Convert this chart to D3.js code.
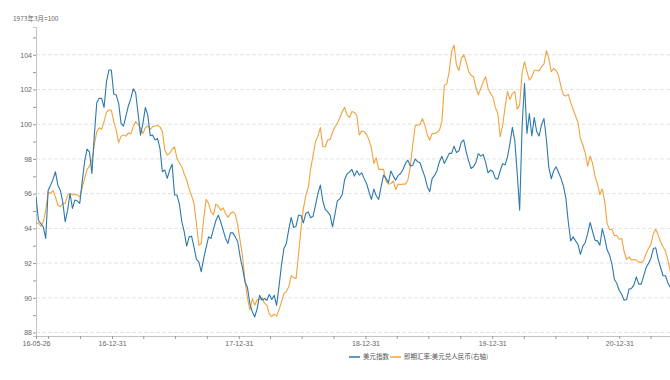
<!DOCTYPE html>
<html>
<head>
<meta charset="utf-8">
<script src="https://cdn.jsdelivr.net/npm/d3@7"></script>
<style>
    body { margin: 0; background: #ffffff; }
    svg { display: block; font-family: "Noto Sans CJK SC", "Noto Sans", sans-serif; }
</style>
</head>
<body>
<div id="chart"></div>
<script>
// weekly closes, first one on 2016-05-26
const first_week = '2016-05-26';
const last_day = '2021-05-26';

// 美元指数 (left axis, 1973年3月=100)
const dxy_values = [
    95.82, 94.47, 94.28, 94.09, 93.42, 96.20, 96.49, 96.82, 97.26, 96.49,
    96.20, 95.53, 94.38, 95.05, 96.01, 95.15, 95.63, 95.57, 95.44, 96.68,
    97.84, 98.57, 98.41, 97.16, 99.37, 101.24, 101.49, 101.49, 100.97, 102.45,
    103.12, 103.12, 101.74, 101.68, 101.20, 100.05, 99.89, 100.47, 101.05, 101.47,
    102.04, 101.81, 100.62, 99.37, 100.05, 100.97, 100.51, 99.34, 99.37, 99.09,
    99.18, 98.61, 97.26, 97.36, 96.88, 97.36, 97.70, 95.92, 95.92, 95.40,
    94.38, 93.80, 92.98, 93.51, 93.55, 92.94, 92.21, 92.07, 91.50, 92.27,
    92.90, 93.51, 93.42, 93.94, 94.44, 94.76, 94.38, 93.90, 93.42, 93.13,
    93.74, 93.74, 93.51, 93.23, 92.36, 91.69, 90.92, 90.59, 89.67, 89.19,
    88.90, 89.38, 90.15, 89.86, 89.96, 89.86, 90.19, 89.90, 90.15, 89.56,
    90.67, 91.88, 92.84, 93.13, 93.94, 94.63, 94.05, 94.13, 94.76, 94.76,
    94.32, 94.86, 94.95, 94.61, 94.70, 95.34, 96.01, 96.49, 95.59, 95.09,
    94.95, 94.76, 94.09, 94.82, 95.59, 95.70, 95.95, 96.82, 97.13, 97.26,
    97.39, 97.01, 97.32, 97.07, 97.20, 96.88, 96.59, 96.11, 95.67, 96.26,
    95.88, 95.67, 96.40, 97.07, 96.88, 96.63, 97.30, 97.01, 96.78, 97.05,
    97.16, 97.39, 97.74, 97.93, 97.59, 97.64, 97.99, 97.84, 97.78, 97.36,
    96.97, 96.40, 96.11, 96.88, 97.05, 97.34, 97.84, 98.16, 97.74, 98.01,
    98.32, 98.32, 98.74, 98.37, 98.47, 98.97, 99.09, 98.41, 97.89, 97.45,
    97.55, 97.80, 98.30, 98.16, 98.26, 97.80, 97.20, 97.36, 97.26, 96.88,
    96.84, 97.32, 97.72, 97.66, 98.12, 98.89, 99.82, 99.05, 97.16, 95.05,
    99.85, 102.35, 99.47, 100.62, 99.32, 100.39, 99.58, 99.32, 99.97, 100.33,
    99.12, 97.51, 96.86, 97.32, 97.55, 97.22, 96.88, 96.45, 95.76, 94.38,
    93.28, 93.51, 93.28, 93.07, 92.50, 92.98, 93.19, 93.71, 94.34, 93.82,
    93.32, 93.28, 93.03, 93.98, 93.44, 92.75, 92.46, 91.92, 91.05, 90.82,
    90.42, 90.19, 89.86, 89.90, 90.50, 90.54, 90.73, 91.21, 90.79, 90.79,
    91.25, 91.73, 91.98, 92.27, 92.84, 92.88, 92.21, 91.73, 91.27, 91.27,
    90.86, 90.59
];

// 即期汇率:美元兑人民币 (right axis)
const usdcny_values = [
    6.569, 6.572, 6.560, 6.575, 6.614, 6.676, 6.671, 6.680, 6.659, 6.631,
    6.626, 6.637, 6.637, 6.665, 6.671, 6.666, 6.668, 6.665, 6.659, 6.691,
    6.721, 6.752, 6.763, 6.781, 6.834, 6.879, 6.892, 6.887, 6.913, 6.945,
    6.952, 6.952, 6.913, 6.884, 6.842, 6.864, 6.868, 6.864, 6.875, 6.871,
    6.896, 6.913, 6.904, 6.890, 6.873, 6.892, 6.898, 6.887, 6.896, 6.898,
    6.900, 6.896, 6.879, 6.817, 6.800, 6.806, 6.819, 6.828, 6.789, 6.774,
    6.761, 6.736, 6.716, 6.686, 6.664, 6.637, 6.569, 6.496, 6.502, 6.586,
    6.651, 6.637, 6.609, 6.598, 6.635, 6.628, 6.614, 6.622, 6.603, 6.590,
    6.603, 6.609, 6.600, 6.564, 6.511, 6.457, 6.376, 6.319, 6.277, 6.316,
    6.294, 6.313, 6.313, 6.320, 6.300, 6.294, 6.264, 6.255, 6.264, 6.257,
    6.279, 6.305, 6.333, 6.340, 6.356, 6.393, 6.387, 6.384, 6.463, 6.547,
    6.619, 6.663, 6.690, 6.752, 6.800, 6.845, 6.864, 6.893, 6.828, 6.828,
    6.851, 6.853, 6.877, 6.895, 6.908, 6.925, 6.946, 6.961, 6.935, 6.927,
    6.947, 6.944, 6.933, 6.868, 6.881, 6.879, 6.870, 6.852, 6.823, 6.772,
    6.790, 6.752, 6.752, 6.752, 6.713, 6.702, 6.704, 6.712, 6.684, 6.702,
    6.701, 6.702, 6.702, 6.716, 6.761, 6.834, 6.899, 6.901, 6.904, 6.923,
    6.901, 6.868, 6.851, 6.873, 6.873, 6.877, 6.884, 6.913, 7.036, 7.040,
    7.081, 7.150, 7.171, 7.104, 7.085, 7.126, 7.138, 7.115, 7.082, 7.069,
    7.064, 7.028, 7.003, 7.025, 7.048, 7.064, 7.025, 7.008, 6.996, 6.961,
    6.941, 6.862, 6.901, 6.961, 7.015, 6.987, 7.008, 7.014, 6.955, 6.969,
    7.076, 7.115, 7.081, 7.053, 7.064, 7.086, 7.086, 7.084, 7.098, 7.107,
    7.152, 7.126, 7.081, 7.092, 7.085, 7.068, 7.031, 7.003, 6.999, 7.005,
    6.977, 6.954, 6.932, 6.910, 6.856, 6.834, 6.806, 6.763, 6.797, 6.772,
    6.729, 6.703, 6.667, 6.686, 6.643, 6.569, 6.549, 6.549, 6.529, 6.529,
    6.516, 6.519, 6.474, 6.448, 6.457, 6.446, 6.448, 6.446, 6.440, 6.437,
    6.444, 6.468, 6.485, 6.499, 6.534, 6.550, 6.530, 6.508, 6.491, 6.476,
    6.446, 6.406
];

const series_names = ['美元指数', '即期汇率:美元兑人民币(右轴)'];
const unit_note = '1973年3月=100';
const y_ticks = [88, 89, 90, 91, 92, 93, 94, 95, 96, 97, 98, 99, 100, 101, 102, 103, 104, 105];
const y_labels = [88, 90, 92, 94, 96, 98, 100, 102, 104];
const x_label_dates = ['2016-05-26', '2016-12-31', '2017-12-31', '2018-12-31', '2019-12-31', '2020-12-31'];

(function() {
    const width = 670, height = 380;
    const margins = {top: 27, right: 0, bottom: 44, left: 36};
    const colors = ['#2c79ad', '#f3a23e'];
    const axis_color = '#c4c4c4', label_color = '#666666';

    const parse = d3.timeParse('%Y-%m-%d');
    const fmt = d3.timeFormat('%y-%m-%d');
    const start = parse(first_week);
    const dates = dxy_values.map((v, i) => d3.timeDay.offset(start, 7 * i));

    let svg = d3.select('#chart').append('svg')
        .attr('width', width)
        .attr('height', height);

    let x = d3.scaleTime()
        .domain([start, parse(last_day)])
        .range([margins.left, width - margins.right]);
    let y = d3.scaleLinear()
        .domain([87.8, 105.6])
        .range([height - margins.bottom, margins.top]);
    let y_right = d3.scaleLinear()
        .domain([6.19, 7.232])
        .range([height - margins.bottom, margins.top]);

    // grid
    svg.append('g')
        .selectAll('line')
        .data(y_labels)
        .enter().append('line')
        .attr('x1', margins.left)
        .attr('x2', width)
        .attr('y1', (d) => y(d))
        .attr('y2', (d) => y(d))
        .attr('stroke', '#e4e4e4')
        .attr('stroke-dasharray', '4,2')
        .attr('stroke-width', 1);

    // left axis
    let y_axis = svg.append('g')
        .attr('transform', 'translate(' + margins.left + ',0)')
        .call(d3.axisLeft(y)
            .tickValues(y_ticks)
            .tickSize(3)
            .tickFormat((d) => (y_labels.indexOf(d) >= 0 ? d : '')));
    y_axis.select('.domain').attr('stroke', axis_color);
    y_axis.selectAll('.tick line').attr('stroke', '#999999');
    y_axis.selectAll('text')
        .attr('fill', label_color)
        .attr('font-size', 7)
        .attr('x', -4);

    // bottom axis, ticks on quarter ends
    const label_times = x_label_dates.map((d) => +parse(d));
    const quarter_ends = d3.timeMonth.range(new Date(2016, 6, 1), new Date(2021, 6, 1), 3)
        .map((d) => d3.timeDay.offset(d, -1));
    let x_axis = svg.append('g')
        .attr('transform', 'translate(0,' + (height - margins.bottom) + ')')
        .call(d3.axisBottom(x)
            .tickValues([start].concat(quarter_ends))
            .tickSize(3)
            .tickSizeOuter(0)
            .tickFormat((d) => (label_times.indexOf(+d) >= 0 ? fmt(d) : '')));
    x_axis.select('.domain').attr('stroke', axis_color);
    x_axis.selectAll('.tick line').attr('stroke', '#999999');
    x_axis.selectAll('text')
        .attr('fill', label_color)
        .attr('font-size', 7)
        .attr('y', 5);

    svg.append('defs').append('clipPath')
        .attr('id', 'plot-clip')
        .append('rect')
        .attr('x', margins.left)
        .attr('y', 0)
        .attr('width', width - margins.left)
        .attr('height', height - margins.bottom);

    let plot = svg.append('g').attr('clip-path', 'url(#plot-clip)');

    let line_left = d3.line()
        .x((d, i) => x(dates[i]))
        .y((d) => y(d));
    let line_right = d3.line()
        .x((d, i) => x(dates[i]))
        .y((d) => y_right(d));

    plot.append('path').datum(usdcny_values)
        .attr('fill', 'none')
        .attr('stroke', colors[1])
        .attr('stroke-width', 1.1)
        .attr('stroke-linejoin', 'round')
        .attr('d', line_right);

    plot.append('path').datum(dxy_values)
        .attr('fill', 'none')
        .attr('stroke', colors[0])
        .attr('stroke-width', 1.1)
        .attr('stroke-linejoin', 'round')
        .attr('d', line_left);

    // unit note
    svg.append('text')
        .attr('x', 13)
        .attr('y', 21)
        .attr('font-size', 6.5)
        .attr('fill', label_color)
        .text(unit_note);

    // legend
    let legend = svg.append('g')
        .attr('font-size', 6.5)
        .attr('transform', 'translate(349,357)');
    const legend_x = [0, 41];
    series_names.forEach(function(name, i) {
        legend.append('line')
            .attr('x1', legend_x[i])
            .attr('x2', legend_x[i] + 11)
            .attr('stroke', colors[i])
            .attr('stroke-width', 1.5);
        legend.append('text')
            .attr('x', legend_x[i] + 14)
            .attr('dy', '0.35em')
            .attr('fill', '#555555')
            .text(name);
    });
}());
</script>
</body>
</html>
